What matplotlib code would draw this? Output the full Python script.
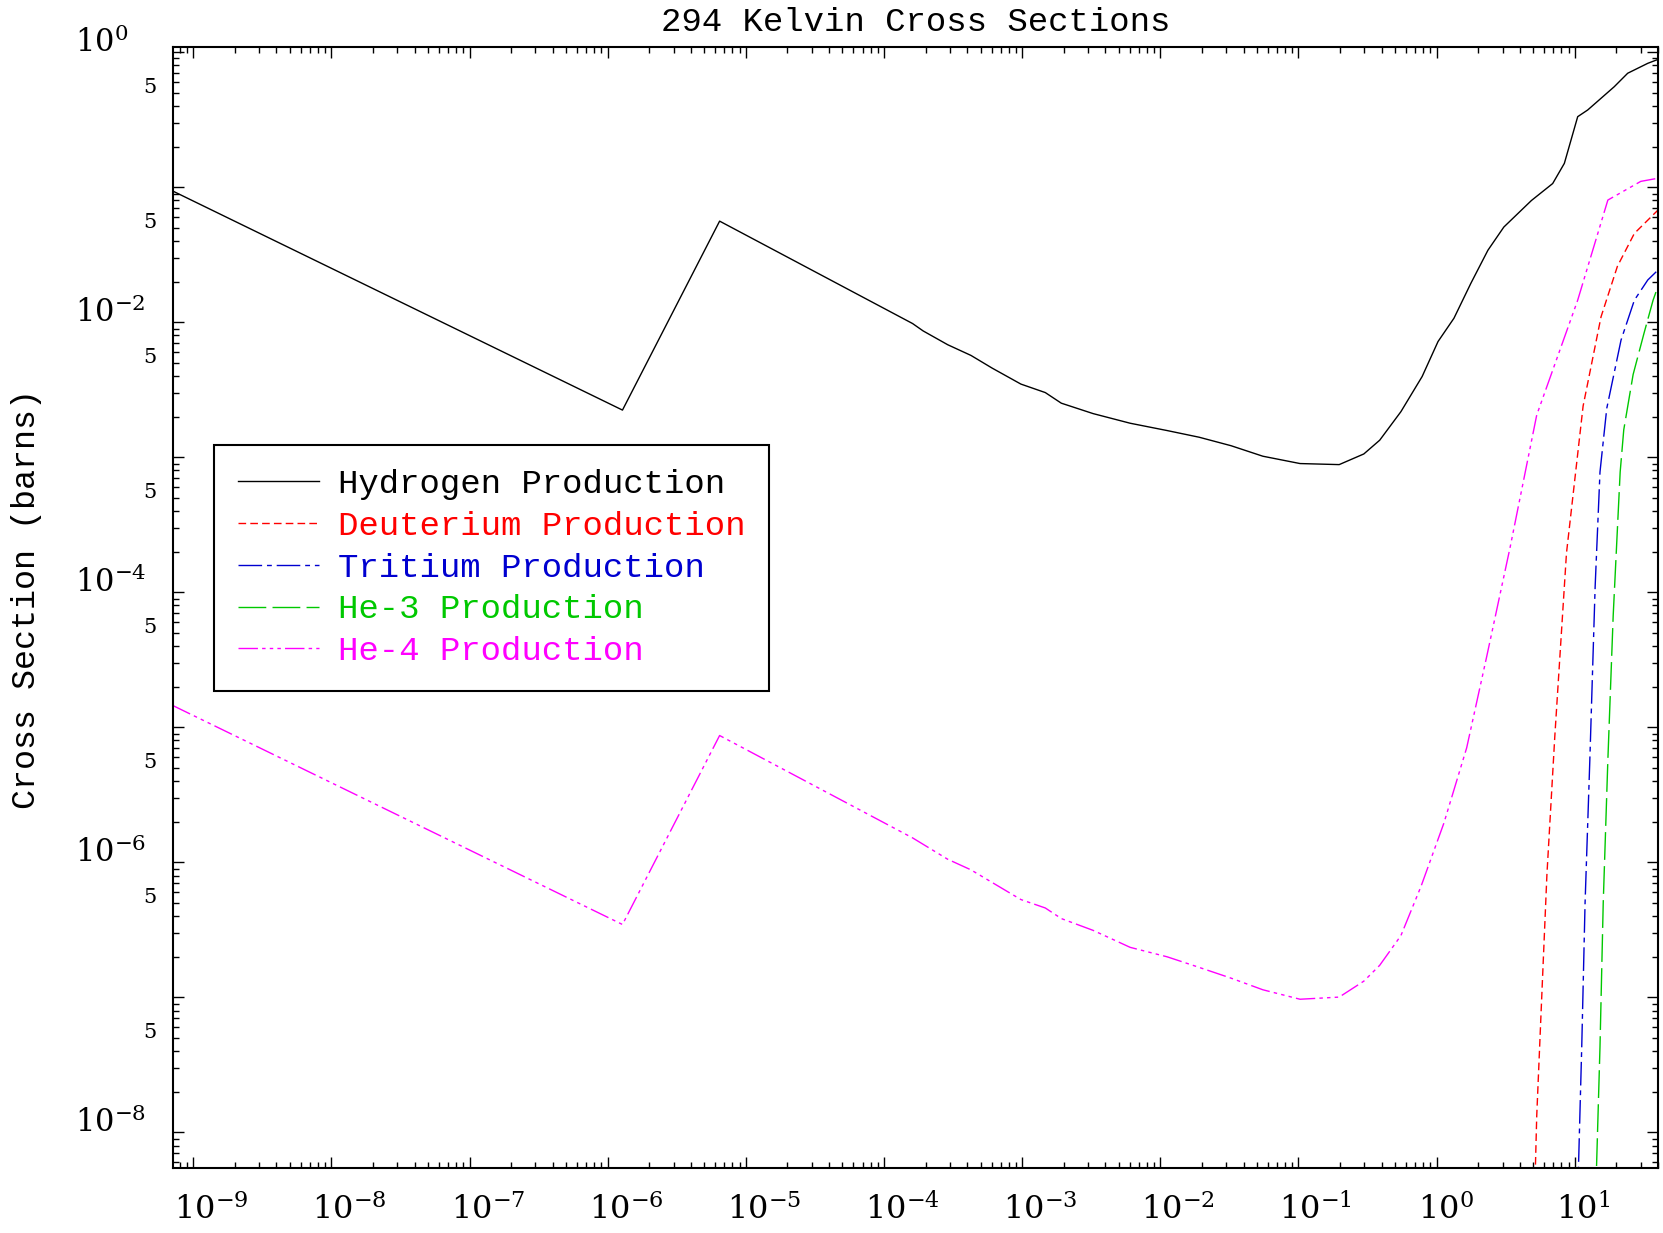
import numpy as np
import matplotlib.pyplot as plt
from matplotlib.ticker import LogLocator, NullFormatter
from matplotlib.transforms import offset_copy

plt.rcParams['mathtext.fontset'] = 'dejavuserif'

# Energies and cross sections (barns)
h_energy = [7.1e-10, 1.28e-6, 6.46e-6, 1.61e-4, 1.92e-4, 2.89e-4, 4.26e-4, 6.07e-4,
            9.79e-4, 1.47e-3, 1.92e-3, 3.26e-3, 6.05e-3, 1.12e-2, 1.91e-2, 3.25e-2,
            5.52e-2, 0.1026, 0.197, 0.297, 0.387, 0.551, 0.785, 1.023, 1.334, 1.770,
            2.349, 3.063, 4.852, 6.914, 8.398, 10.49, 12.39, 19.28, 24.14, 33.73, 40.0]
h_xs = [0.0940, 2.24e-3, 5.62e-2, 9.80e-3, 8.64e-3, 6.83e-3, 5.69e-3, 4.58e-3,
        3.49e-3, 3.02e-3, 2.52e-3, 2.11e-3, 1.79e-3, 1.58e-3, 1.41e-3, 1.22e-3,
        1.02e-3, 9.00e-4, 8.84e-4, 1.06e-3, 1.34e-3, 2.18e-3, 3.97e-3, 7.21e-3,
        1.073e-2, 1.95e-2, 3.42e-2, 5.08e-2, 7.99e-2, 0.1067, 0.1505, 0.3337,
        0.374, 0.556, 0.700, 0.829, 0.886]

d_energy = [5.11, 5.30, 5.79, 6.28, 7.16, 8.70, 11.48, 15.48, 20.33, 26.98, 40.0]
d_xs = [3.16e-9, 1.327e-8, 1.14e-7, 8.11e-7, 8.52e-6, 1.95e-4, 2.40e-3, 1.10e-2,
        2.60e-2, 4.56e-2, 6.79e-2]

t_energy = [10.47, 11.22, 11.86, 12.84, 14.03, 15.21, 17.03, 21.6, 26.98, 33.73, 40.0]
t_xs = [3.16e-9, 4.30e-8, 4.98e-7, 5.72e-6, 1.104e-4, 7.79e-4, 2.31e-3, 7.39e-3,
        1.46e-2, 2.06e-2, 2.44e-2]

he3_energy = [14.13, 15.21, 16.05, 17.34, 18.95, 21.29, 22.6, 26.42, 31.64, 36.85, 40.0]
he3_xs = [3.16e-9, 4.30e-8, 4.98e-7, 5.72e-6, 6.70e-5, 7.79e-4, 1.6e-3, 4.11e-3,
          8.27e-3, 1.46e-2, 1.85e-2]

he4_energy = [7.1e-10, 1.28e-6, 6.46e-6, 1.61e-4, 2.89e-4, 4.26e-4, 6.07e-4, 9.79e-4,
              1.47e-3, 1.92e-3, 3.26e-3, 6.05e-3, 1.12e-2, 1.91e-2, 3.25e-2, 5.52e-2,
              0.1026, 0.197, 0.297, 0.387, 0.551, 0.771, 1.127, 1.649, 2.307, 3.405,
              5.30, 10.49, 17.34, 30.01, 40.0]
he4_xs = [1.455e-5, 3.47e-7, 8.71e-6, 1.52e-6, 1.056e-6, 8.81e-7, 7.10e-7, 5.31e-7,
          4.60e-7, 3.84e-7, 3.14e-7, 2.35e-7, 2.00e-7, 1.67e-7, 1.39e-7, 1.14e-7,
          9.70e-8, 1.006e-7, 1.32e-7, 1.73e-7, 2.87e-7, 6.66e-7, 1.95e-6, 7.06e-6,
          3.38e-5, 2.17e-4, 2.06e-3, 1.46e-2, 8.05e-2, 0.1107, 0.1168]

labels = ['Hydrogen Production', 'Deuterium Production', 'Tritium Production',
          'He-3 Production', 'He-4 Production']
colors = ['#000000', '#FF0000', '#0000D0', '#00C800', '#FF00FF']

# tick labels
x_exps = [-9, -8, -7, -6, -5, -4, -3, -2, -1, 0, 1]
y_exps = [0, -2, -4, -6, -8]
y_fives = [5e-1, 5e-2, 5e-3, 5e-4, 5e-5, 5e-6, 5e-7, 5e-8]

fig = plt.figure(figsize=(16.63, 12.33), dpi=100)
ax = fig.add_axes([0.1038, 0.0531, 0.8932, 0.9090])

ax.plot(h_energy, h_xs, color=colors[0], lw=1.0, label=labels[0])
ax.plot(d_energy, d_xs, color=colors[1], lw=1.0, dashes=(5.5, 3.0), label=labels[1])
ax.plot(t_energy, t_xs, color=colors[2], lw=1.0, dashes=(17, 3.5, 3.5, 3.5), label=labels[2])
ax.plot(he3_energy, he3_xs, color=colors[3], lw=1.0, dashes=(20, 4.5), label=labels[3])
ax.plot(he4_energy, he4_xs, color=colors[4], lw=1.0,
        dashes=(14, 3, 2.5, 3, 2.5, 3, 2.5, 3), label=labels[4])

ax.set_xscale('log')
ax.set_yscale('log')
ax.set_xlim(7.1e-10, 40)
ax.set_ylim(5.5e-9, 1.1)

for axis in (ax.xaxis, ax.yaxis):
    axis.set_major_locator(LogLocator(base=10, numticks=30))
    axis.set_minor_locator(LogLocator(base=10, subs=np.arange(2, 10), numticks=30))
    axis.set_minor_formatter(NullFormatter())
ax.tick_params(which='both', direction='in', top=True, right=True,
               labelbottom=False, labelleft=False, width=1)
ax.tick_params(which='major', length=8)
ax.tick_params(which='minor', length=4.5)
for s in ax.spines.values():
    s.set_linewidth(1.5)

# IDL-style tick labels drawn by hand
xlab_tr = offset_copy(ax.get_xaxis_transform(), fig=fig, x=-19, y=-26, units='dots')
for e in x_exps:
    ax.text(10.0 ** e, 0, r'$10^{%d}$' % e, transform=xlab_tr,
            ha='left', va='top', fontsize=23)

ylab_tr = offset_copy(ax.get_yaxis_transform(), fig=fig, x=-98, y=0, units='dots')
for e in y_exps:
    ax.text(0, 10.0 ** e, r'$10^{%d}$' % e, transform=ylab_tr,
            ha='left', va='baseline', fontsize=22)

five_tr = offset_copy(ax.get_yaxis_transform(), fig=fig, x=-16, y=0, units='dots')
for v in y_fives:
    ax.text(0, v, '5', transform=five_tr, ha='right', va='baseline',
            fontsize=15, family='DejaVu Serif')

ax.set_title('294 Kelvin Cross Sections', family='Liberation Mono', fontsize=24.5, pad=11)
fig.text(26.5 / 1663, 1 - 599 / 1233, 'Cross Section (barns)', rotation=90,
         ha='center', va='center', family='Liberation Mono', fontsize=24)

leg = ax.legend(loc='upper left', bbox_to_anchor=(0.0278, 0.6447),
                prop={'family': 'Liberation Mono', 'size': 24.5},
                fancybox=False, edgecolor='black', framealpha=1,
                handlelength=2.4, handletextpad=0.55, borderpad=0.7,
                labelspacing=0.32, borderaxespad=0)
leg.get_frame().set_linewidth(1.5)
for t, c in zip(leg.get_texts(), colors):
    t.set_color(c)

fig.savefig('out.png', dpi=100)
